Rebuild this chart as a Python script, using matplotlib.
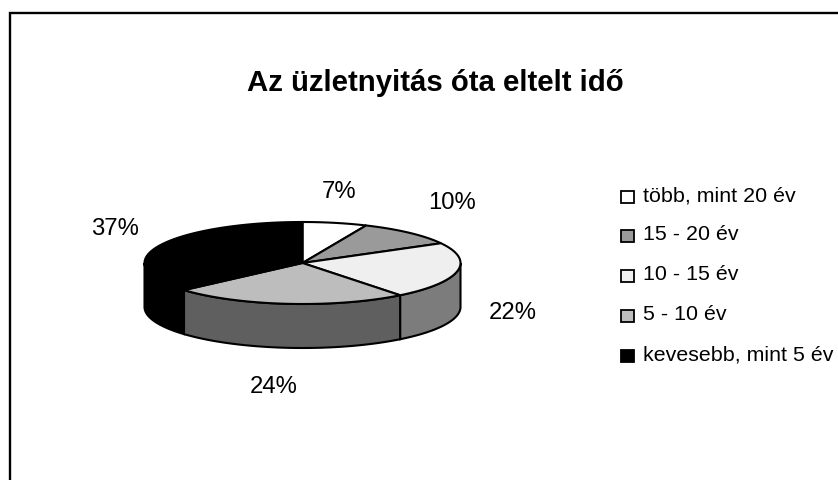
import numpy as np
import matplotlib
matplotlib.use("Agg")
import matplotlib.pyplot as plt
from matplotlib.patches import Rectangle

plt.rcParams['font.family'] = ['Liberation Sans', 'DejaVu Sans']

title = "Az üzletnyitás óta eltelt idő"
categories = ["több, mint 20 év", "15 - 20 év", "10 - 15 év", "5 - 10 év", "kevesebb, mint 5 év"]
# a szeletek a kepen mert szoge alapjan, a feliratok kerekitettek
values = [6.6, 10.4, 22.4, 24.1, 36.5]
pct_labels = ["7%", "10%", "22%", "24%", "37%"]
top_colors = ["#ffffff", "#9a9a9a", "#efefef", "#bdbdbd", "#000000"]
side_colors = ["#808080", "#4d4d4d", "#7c7c7c", "#5f5f5f", "#000000"]
label_pos = [(339, 192), (452, 203), (513, 313), (274, 387), (115, 229)]

W, H = 838, 480
cx, cy, rx, ry, depth = 302.5, 263, 158, 41, 44


def ell(t, dy=0):
    t = np.radians(t)
    return cx + rx * np.sin(t), cy - ry * np.cos(t) + dy


fig = plt.figure(figsize=(W / 100, H / 100), dpi=100)
ax = fig.add_axes([0, 0, 1, 1])
ax.set_xlim(0, W)
ax.set_ylim(H, 0)
ax.axis("off")

# keret, jobb oldalon nincs vonal
ax.plot([9.5, 9.5, W], [H, 12.5, 12.5], color="black", lw=1.7, clip_on=False, solid_joinstyle="miter")

edges = np.concatenate([[0], np.cumsum(values)]) * 3.6

# oldalfal, csak az elulso resz latszik
for i in range(len(values)):
    a, b = max(edges[i], 90), min(edges[i + 1], 270)
    if a >= b:
        continue
    t = np.linspace(a, b, 80)
    x1, y1 = ell(t)
    x2, y2 = ell(t[::-1], depth)
    ax.fill(np.r_[x1, x2], np.r_[y1, y2], facecolor=side_colors[i], edgecolor="black", lw=1.5, zorder=2)

# felso lap
for i in range(len(values)):
    t = np.linspace(edges[i], edges[i + 1], 80)
    x, y = ell(t)
    ax.fill(np.r_[cx, x], np.r_[cy, y], facecolor=top_colors[i], edgecolor="black", lw=1.5, zorder=3)

for lab, (lx, ly) in zip(pct_labels, label_pos):
    ax.text(lx, ly, lab, fontsize=17.2, ha="center", va="center")

ax.text(435, 83, title, fontsize=21.2, fontweight="bold", ha="center", va="center")

# jelmagyarazat
leg_y = [197, 236, 276, 316, 356]
for name, col, ly in zip(categories, top_colors, leg_y):
    ax.add_patch(Rectangle((621, ly - 6), 13, 12, facecolor=col, edgecolor="black", lw=1.3))
    ax.text(642.5, ly - 1, name, fontsize=15.4, ha="left", va="center")

fig.savefig("out.png", dpi=100)
